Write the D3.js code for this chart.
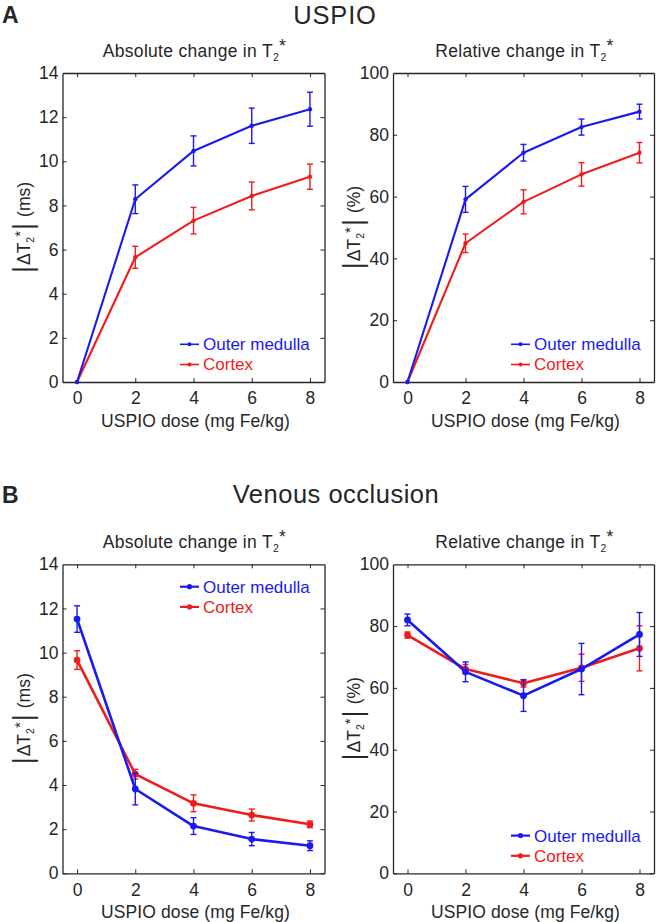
<!DOCTYPE html>
<html>
<head>
<meta charset="utf-8">
<script src="https://cdn.jsdelivr.net/npm/d3@7"></script>
<style>
  body { margin: 0; background: #fff; }
  svg { display: block; font-family: "Liberation Sans", Arial, Helvetica, sans-serif; }
</style>
</head>
<body>
<script>
// Doses on the x axis and tick values
const doses = [0, 2, 4, 6, 8];
const doseTicks = [0, 2, 4, 6, 8];
const absTicks = [0, 2, 4, 6, 8, 10, 12, 14];
const relTicks = [0, 20, 40, 60, 80, 100];
const seriesNames = ["Outer medulla", "Cortex"];

// A: USPIO
const uspioAbsMedulla = [0, 8.28, 10.47, 11.61, 12.36];
const uspioAbsMedullaErr = [0, 0.65, 0.68, 0.80, 0.77];
const uspioAbsCortex = [0, 5.65, 7.31, 8.43, 9.30];
const uspioAbsCortexErr = [0, 0.50, 0.60, 0.63, 0.57];
const uspioRelMedulla = [0, 59.1, 74.2, 82.5, 87.5];
const uspioRelMedullaErr = [0, 4.2, 2.7, 2.6, 2.4];
const uspioRelCortex = [0, 44.9, 58.3, 67.2, 74.2];
const uspioRelCortexErr = [0, 3.0, 3.9, 3.8, 3.3];

// B: venous occlusion
const venAbsMedulla = [11.52, 3.82, 2.14, 1.55, 1.25];
const venAbsMedullaErr = [0.60, 0.72, 0.38, 0.30, 0.22];
const venAbsCortex = [9.66, 4.49, 3.17, 2.64, 2.22];
const venAbsCortexErr = [0.42, 0.22, 0.38, 0.27, 0.15];
const venRelMedulla = [82.0, 65.2, 57.5, 66.1, 77.3];
const venRelMedullaErr = [1.9, 3.2, 5.1, 8.3, 7.1];
const venRelCortex = [77.1, 66.1, 61.5, 66.5, 72.8];
const venRelCortexErr = [1.0, 1.5, 1.2, 4.4, 7.3];

const blue = "#1a1af0", red = "#f01c1c", ink = "#262626";

const svg = d3.select("body").append("svg")
  .attr("width", 656).attr("height", 922);

// Panel letters and group titles
svg.append("text").attr("x", 2).attr("y", 23).text("A")
  .attr("font-size", 23).attr("font-weight", "bold").attr("fill", ink);
svg.append("text").attr("x", 2).attr("y", 503).text("B")
  .attr("font-size", 23).attr("font-weight", "bold").attr("fill", ink);
svg.append("text").attr("x", 335).attr("y", 24).text("USPIO")
  .attr("font-size", 25.5).attr("letter-spacing", 0.8).attr("text-anchor", "middle").attr("fill", ink);
svg.append("text").attr("x", 336).attr("y", 503).text("Venous occlusion")
  .attr("font-size", 25.5).attr("letter-spacing", 0.5).attr("text-anchor", "middle").attr("fill", ink);

const panels = [
  { x0: 62.5, x1: 324.5, y0: 73, y1: 382, ticks: absTicks, max: 14, title: "Absolute change in T", unit: "(ms)",
    med: uspioAbsMedulla, medErr: uspioAbsMedullaErr, cor: uspioAbsCortex, corErr: uspioAbsCortexErr,
    big: false, legend: "bottom" },
  { x0: 393, x1: 654, y0: 73, y1: 382, ticks: relTicks, max: 100, title: "Relative change in T", unit: "(%)",
    med: uspioRelMedulla, medErr: uspioRelMedullaErr, cor: uspioRelCortex, corErr: uspioRelCortexErr,
    big: false, legend: "bottom" },
  { x0: 62.5, x1: 324.5, y0: 564.3, y1: 873.3, ticks: absTicks, max: 14, title: "Absolute change in T", unit: "(ms)",
    med: venAbsMedulla, medErr: venAbsMedullaErr, cor: venAbsCortex, corErr: venAbsCortexErr,
    big: true, legend: "top" },
  { x0: 393, x1: 654, y0: 564.3, y1: 873.3, ticks: relTicks, max: 100, title: "Relative change in T", unit: "(%)",
    med: venRelMedulla, medErr: venRelMedullaErr, cor: venRelCortex, corErr: venRelCortexErr,
    big: true, legend: "bottom" }
];

panels.forEach(p => drawPanel(p));

function drawPanel(p) {
  const x = d3.scaleLinear().domain([-0.5, 8.5]).range([p.x0, p.x1]);
  const y = d3.scaleLinear().domain([0, p.max]).range([p.y1, p.y0]);
  const g = svg.append("g");
  const cx = (p.x0 + p.x1) / 2;

  // Box with inward ticks on all sides (MATLAB look)
  const tick = 4;
  const axes = [
    [d3.axisBottom(x).tickValues(doseTicks).tickSize(tick), p.y1, true],
    [d3.axisTop(x).tickValues(doseTicks).tickSize(tick), p.y0, false]
  ];
  axes.forEach(([ax, ty, labels]) => {
    const a = g.append("g").attr("transform", "translate(0," + ty + ")").call(ax.tickSizeOuter(0));
    a.selectAll(".tick line").attr("y2", ty === p.y1 ? -tick : tick).attr("stroke", ink);
    a.select(".domain").attr("stroke", ink).attr("stroke-width", 1.3);
    a.selectAll(".tick text").attr("fill", ink).attr("font-size", 17.5)
      .attr("font-family", null).attr("y", 10).attr("dy", "0.71em");
    if (!labels) a.selectAll(".tick text").remove();
  });
  [[d3.axisLeft(y), p.x0, true], [d3.axisRight(y), p.x1, false]].forEach(([ax, tx, labels]) => {
    const a = g.append("g").attr("transform", "translate(" + tx + ",0)")
      .call(ax.tickValues(p.ticks).tickSize(tick).tickSizeOuter(0));
    a.selectAll(".tick line").attr("x2", tx === p.x0 ? tick : -tick).attr("stroke", ink);
    a.select(".domain").attr("stroke", ink).attr("stroke-width", 1.3);
    a.selectAll(".tick text").attr("fill", ink).attr("font-size", 17.5)
      .attr("font-family", null).attr("x", -4);
    if (!labels) a.selectAll(".tick text").remove();
  });
  // hide end ticks at box corners
  g.selectAll(".tick").filter(d => d === p.max).select("line").remove();

  // Subtitle with T2*
  const t = g.append("text").attr("x", cx + 1).attr("y", p.y0 - 16)
    .attr("text-anchor", "middle").attr("font-size", 17.5).attr("letter-spacing", 0.3).attr("fill", ink);
  t.append("tspan").text(p.title);
  t.append("tspan").text("2").attr("font-size", 10.5).attr("dy", 4);
  t.append("tspan").text("*").attr("dy", -9);

  // X label
  g.append("text").attr("x", cx + 2).attr("y", p.y1 + 45)
    .attr("text-anchor", "middle").attr("font-size", 17.5).attr("letter-spacing", 0.1).attr("fill", ink)
    .text("USPIO dose (mg Fe/kg)");

  // Y label |ΔT2*| (unit)
  const lx = p.x0 - 33, ly = (p.y0 + p.y1) / 2;
  const yl = g.append("text").attr("transform", "translate(" + lx + "," + ly + ") rotate(-90)")
    .attr("text-anchor", "middle").attr("font-size", 17.5).attr("fill", ink);
  yl.append("tspan").text("|").attr("font-size", 27).attr("dy", 2);
  yl.append("tspan").text("ΔT").attr("dy", -2).attr("dx", 1);
  yl.append("tspan").text("2").attr("font-size", 10.5).attr("dy", 4);
  yl.append("tspan").text("*").attr("dy", -9).attr("font-size", 15);
  yl.append("tspan").text("|").attr("font-size", 27).attr("dy", 7).attr("dx", 1);
  yl.append("tspan").text(p.unit).attr("dy", -2).attr("dx", 6);

  const lw = p.big ? 2.6 : 2.1, r = p.big ? 3.4 : 2.2;
  const series = [
    { name: seriesNames[1], vals: p.cor, err: p.corErr, color: red },
    { name: seriesNames[0], vals: p.med, err: p.medErr, color: blue }
  ];
  const line = d3.line().x((d, i) => x(doses[i])).y(d => y(d));

  series.forEach(s => {
    const sg = g.append("g");
    sg.append("path").attr("d", line(s.vals)).attr("fill", "none")
      .attr("stroke", s.color).attr("stroke-width", lw).attr("stroke-linejoin", "round");
    // error bars
    const eb = sg.selectAll(".eb").data(s.vals.map((v, i) => ({ v: v, e: s.err[i], d: doses[i] })).filter(d => d.e > 0))
      .enter().append("g").attr("stroke", s.color).attr("stroke-width", 1.4);
    eb.append("line").attr("x1", d => x(d.d)).attr("x2", d => x(d.d))
      .attr("y1", d => y(d.v - d.e)).attr("y2", d => y(d.v + d.e));
    eb.append("line").attr("x1", d => x(d.d) - 3).attr("x2", d => x(d.d) + 3)
      .attr("y1", d => y(d.v - d.e)).attr("y2", d => y(d.v - d.e));
    eb.append("line").attr("x1", d => x(d.d) - 3).attr("x2", d => x(d.d) + 3)
      .attr("y1", d => y(d.v + d.e)).attr("y2", d => y(d.v + d.e));
    sg.selectAll("circle").data(s.vals).enter().append("circle")
      .attr("cx", (d, i) => x(doses[i])).attr("cy", d => y(d)).attr("r", r).attr("fill", s.color);
  });

  // Legend
  const legX = p.x0 + (p.x0 < 100 ? 117.5 : 118);
  const legY = p.legend === "top" ? p.y0 + 22.4 : p.y1 - 37.7;
  [[seriesNames[0], blue], [seriesNames[1], red]].forEach(([name, c], i) => {
    const yy = legY + i * 20.2;
    g.append("line").attr("x1", legX).attr("x2", legX + 19).attr("y1", yy).attr("y2", yy)
      .attr("stroke", c).attr("stroke-width", p.big ? 2.2 : 1.6);
    g.append("circle").attr("cx", legX + 9.5).attr("cy", yy).attr("r", p.big ? 2.6 : 2).attr("fill", c);
    g.append("text").attr("x", legX + 23).attr("y", yy).attr("dy", "0.35em")
      .attr("font-size", 17).attr("fill", c).text(name);
  });
}
</script>
</body>
</html>
